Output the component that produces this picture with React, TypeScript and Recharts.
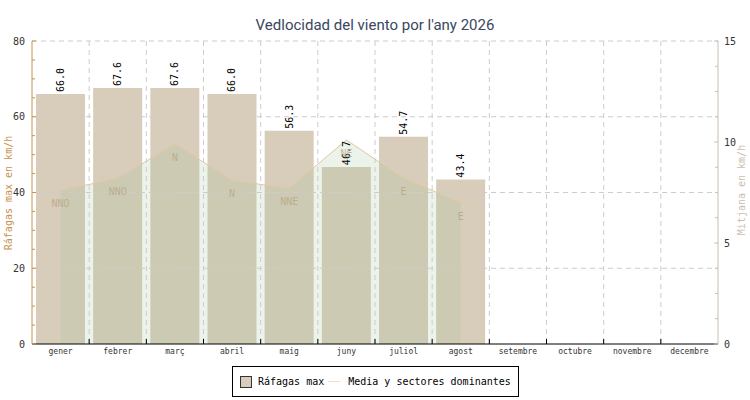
import React from 'react';
import { ComposedChart, Bar, Area, XAxis, YAxis, CartesianGrid, LabelList } from 'recharts';

const months = ['gener', 'febrer', 'març', 'abril', 'maig', 'juny', 'juliol', 'agost', 'setembre', 'octubre', 'novembre', 'decembre'];
const gusts = [66.0, 67.6, 67.6, 66.0, 56.3, 46.7, 54.7, 43.4, null, null, null, null];
const meanSpeed = [7.6, 8.2, 9.9, 8.1, 7.7, 10.1, 8.2, 7.0, null, null, null, null];
const sectors = ['NNO', 'NNO', 'N', 'N', 'NNE', 'NE', 'E', 'E', '', '', '', ''];

const leftTicks = [0, 5, 10, 15, 20, 25, 30, 35, 40, 45, 50, 55, 60, 65, 70, 75, 80];
const leftLabelled = [0, 20, 40, 60, 80];
const rightTicks = [0, 1.25, 2.5, 3.75, 5, 6.25, 7.5, 8.75, 10, 11.25, 12.5, 13.75, 15];
const rightLabelled = [0, 5, 10, 15];

const data = months.map((m, i) => ({ month: m, gust: gusts[i], mean: meanSpeed[i], sector: sectors[i] }));

const MONO = '"DejaVu Sans Mono", monospace';
const LEFT_COLOR = '#c9924f';
const RIGHT_COLOR = '#c9c0b0';
const BAR_COLOR = '#d8ccba';

const LeftTick = (props: any) => {
  const { x, y, payload } = props;
  const ax = x + 7;
  const major = leftLabelled.includes(payload.value);
  return (
    <g>
      <line x1={ax} x2={ax + (major ? 4 : 3)} y1={y} y2={y} stroke={LEFT_COLOR} />
      {major && (
        <text x={x} y={y} dy={3.5} textAnchor="end" fontFamily={MONO} fontSize={10} fill="#333">
          {payload.value}
        </text>
      )}
    </g>
  );
};

const RightTick = (props: any) => {
  const { x, y, payload } = props;
  const ax = x - 6;
  const major = rightLabelled.includes(payload.value);
  return (
    <g>
      <line x1={ax} x2={ax - (major ? 4 : 3)} y1={y} y2={y} stroke={RIGHT_COLOR} />
      {major && (
        <text x={x} y={y} dy={3.5} textAnchor="start" fontFamily={MONO} fontSize={10} fill="#333">
          {payload.value}
        </text>
      )}
    </g>
  );
};

const MonthTick = (props: any) => {
  const { x, y, payload, index } = props;
  const half = payload.offset ?? 0;
  const ay = y - 10;
  return (
    <g>
      {index < months.length - 1 && (
        <line x1={x + half} x2={x + half} y1={ay} y2={ay - 5} stroke="#000" />
      )}
      <text x={x} y={y} textAnchor="middle" fontFamily={MONO} fontSize={8} fill="#333">
        {payload.value}
      </text>
    </g>
  );
};

const GustLabel = (props: any) => {
  const vb = props.viewBox || {};
  const bx = vb.x ?? props.x;
  const by = vb.y ?? props.y;
  const bw = vb.width ?? props.width ?? 0;
  if (props.value == null) return null;
  const tx = bx + bw / 2 + 3.5;
  const ty = by - 2;
  return (
    <text x={tx} y={ty} transform={`rotate(-90, ${tx}, ${ty})`} textAnchor="start" fontFamily={MONO} fontSize={10} fill="#000">
      {Number(props.value).toFixed(1)}
    </text>
  );
};

const SectorLabel = (props: any) => {
  const vb = props.viewBox || {};
  const px = vb.x ?? props.x;
  const py = vb.y ?? props.y;
  if (!props.value || py == null || isNaN(py)) return null;
  return (
    <text x={px} y={py + 17} textAnchor="middle" fontFamily={MONO} fontSize={10} fill="#b5a483" fillOpacity={0.75}>
      {props.value}
    </text>
  );
};

export default function App() {
  return (
    <div style={{ position: 'absolute', left: 0, top: 0, width: 750, height: 400, background: '#fff' }}>
      <ComposedChart
        width={750}
        height={400}
        data={data}
        margin={{ top: 41, right: 0, bottom: 36, left: 0 }}
        barCategoryGap={4}
      >
        <XAxis
          dataKey="month"
          xAxisId="x"
          height={20}
          interval={0}
          tickSize={0}
          tickMargin={10}
          tickLine={false}
          axisLine={{ stroke: '#000' }}
          tick={<MonthTick />}
        />
        <YAxis
          yAxisId="left"
          width={32}
          domain={[0, 80]}
          ticks={leftTicks}
          interval={0}
          tickSize={0}
          tickMargin={7}
          tickLine={false}
          axisLine={{ stroke: LEFT_COLOR }}
          tick={<LeftTick />}
        />
        <YAxis
          yAxisId="right"
          orientation="right"
          width={32}
          domain={[0, 15]}
          ticks={rightTicks}
          interval={0}
          tickSize={0}
          tickMargin={6}
          tickLine={false}
          axisLine={{ stroke: RIGHT_COLOR }}
          tick={<RightTick />}
        />
        <Bar xAxisId="x" yAxisId="left" dataKey="gust" fill={BAR_COLOR} isAnimationActive={false}>
          <LabelList dataKey="gust" content={<GustLabel />} />
        </Bar>
        <Area
          xAxisId="x"
          yAxisId="right"
          type="linear"
          dataKey="mean"
          stroke="#e0c9a2"
          strokeWidth={1}
          fill="rgb(160,195,150)"
          fillOpacity={0.2}
          dot={false}
          activeDot={false}
          isAnimationActive={false}
          zIndex={420}
        >
          <LabelList dataKey="sector" content={<SectorLabel />} />
        </Area>
        <CartesianGrid
          xAxisId="x"
          yAxisId="left"
          stroke="#cccccc"
          strokeDasharray="5 4"
          zIndex={450}
          verticalCoordinatesGenerator={({ offset }: any) =>
            months.slice(1).map((_, i) => offset.left + ((i + 1) * offset.width) / months.length)
          }
          horizontalCoordinatesGenerator={({ offset }: any) =>
            leftLabelled.slice(1).map((v) => offset.top + offset.height * (1 - v / 80))
          }
        />
      </ComposedChart>

      <div
        style={{
          position: 'absolute',
          left: 0,
          top: 16,
          width: 750,
          textAlign: 'center',
          fontFamily: 'Roboto, sans-serif',
          fontSize: 15,
          color: '#3a4662',
        }}
      >
        Vedlocidad del viento por l'any 2026
      </div>

      <svg width={750} height={400} style={{ position: 'absolute', left: 0, top: 0, pointerEvents: 'none' }}>
        <text x={12} y={193} transform="rotate(-90, 12, 193)" textAnchor="middle" fontFamily={MONO} fontSize={10} fill={LEFT_COLOR}>
          Ráfagas max en km/h
        </text>
        <text x={745} y={190} transform="rotate(-90, 745, 190)" textAnchor="middle" fontFamily={MONO} fontSize={10} fill={RIGHT_COLOR}>
          Mitjana en km/h
        </text>
      </svg>

      <div
        style={{
          position: 'absolute',
          left: 232,
          top: 366,
          width: 287,
          height: 31,
          boxSizing: 'border-box',
          border: '1px solid #000',
          background: '#fff',
          display: 'flex',
          alignItems: 'center',
          fontFamily: MONO,
          fontSize: 10,
          color: '#000',
          paddingLeft: 7,
        }}
      >
        <span style={{ width: 10, height: 10, background: BAR_COLOR, border: '1px solid #333', display: 'inline-block' }} />
        <span style={{ marginLeft: 6 }}>Ráfagas max</span>
        <span style={{ width: 12, height: 1, background: '#efe2c9', display: 'inline-block', marginLeft: 4 }} />
        <span style={{ marginLeft: 8 }}>Media y sectores dominantes</span>
      </div>
    </div>
  );
}
